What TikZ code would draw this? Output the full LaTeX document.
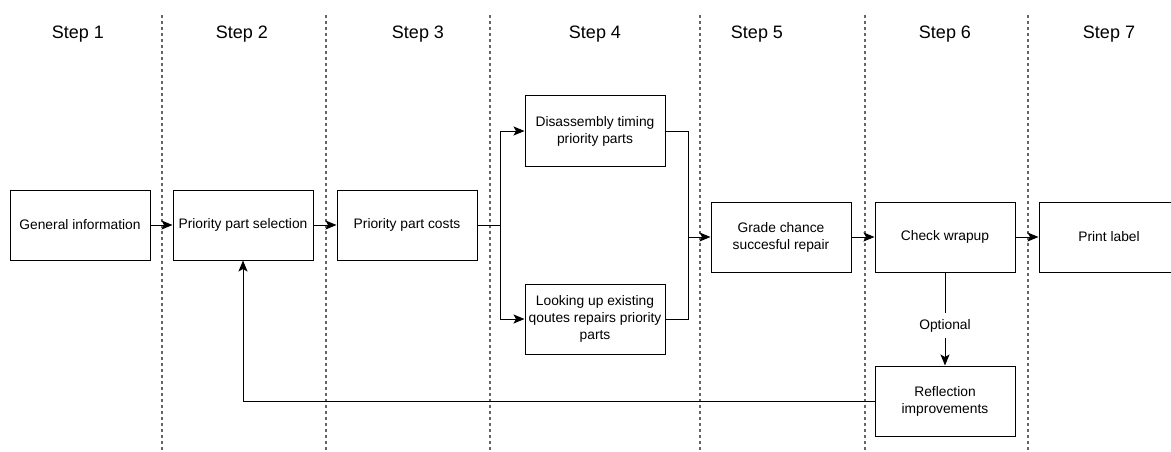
\documentclass[tikz,border=0pt]{standalone}
\usepackage{fontspec}
\setmainfont{Liberation Sans}
\usetikzlibrary{arrows.meta, positioning}

\begin{document}
\begin{tikzpicture}[
    x=1pt, y=-1pt,
    box/.style={rectangle, draw, line width=1pt, minimum width=140pt, minimum height=70pt, inner sep=2pt, align=center, font=\fontsize{13.8}{17}\selectfont},
    stephead/.style={font=\fontsize{18}{20}\selectfont},
    divider/.style={draw=black!60, line width=1.2pt, dash pattern=on 3pt off 3pt},
    arrow/.style={-{Stealth[length=11pt, width=9pt, inset=2.5pt]}, line width=1pt}
]
\useasboundingbox (0,0) rectangle (1171,452);

% Step columns
\foreach \x in {162, 326, 490, 700, 865, 1028}
    \draw[divider] (\x,15) -- (\x,452);

\node[stephead] (s1) at (78,34) {Step 1};
\node[stephead] (s2) at (242,34) {Step 2};
\node[stephead] (s3) at (418,34) {Step 3};
\node[stephead] (s4) at (595,34) {Step 4};
\node[stephead] (s5) at (757,34) {Step 5};
\node[stephead] (s6) at (945,34) {Step 6};
\node[stephead] (s7) at (1109,34) {Step 7};

% Process boxes
\node[box] (general) at (80,225) {General information};
\node[box] (select) at (243,225) {Priority part selection};
\node[box] (costs) at (407,225) {Priority part costs};
\node[box] (disasm) at (595,131) {Disassembly timing\\priority parts};
\node[box] (lookup) at (595,319) {Looking up existing\\qoutes repairs priority\\parts};
\node[box] (grade) at (781,237) {Grade chance\\succesful repair};
\node[box] (check) at (945,237) {Check wrapup};
\node[box] (print) at (1109,237) {Print label};
\node[box] (reflect) at (945,401) {Reflection\\improvements};

\coordinate (split) at (500,225);
\coordinate (merge) at (688,237);

\draw[arrow] (general) -- (select);
\draw[arrow] (select) -- (costs);
\draw[line width=1pt] (costs.east) -- (split);
\draw[arrow] (split) |- (disasm.west);
\draw[arrow] (split) |- (lookup.west);
\draw[line width=1pt] (disasm.east) -| (merge);
\draw[line width=1pt] (lookup.east) -| (merge);
\draw[arrow] (merge) -- (grade.west);
\draw[arrow] (grade) -- (check);
\draw[arrow] (check) -- (print);
\draw[arrow] (check) -- node[pos=0.57, fill=white, inner sep=6pt, font=\fontsize{13.8}{17}\selectfont] {Optional} (reflect);
\draw[arrow] (reflect.west) -| (select.south);

\end{tikzpicture}
\end{document}
